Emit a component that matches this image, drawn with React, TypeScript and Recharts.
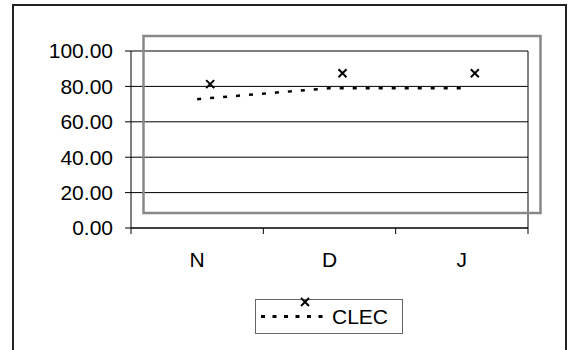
import { LineChart, Line, XAxis, YAxis, CartesianGrid, Legend, Customized } from "recharts";

const CATEGORIES = ["N", "D", "J"];
const CLEC = [72.8, 79.0, 79.0];
const Y_TICKS = [0, 20, 40, 60, 80, 100];

const data = CATEGORIES.map((cat, i) => ({ cat, clec: CLEC[i] }));

const W = 574;
const H = 350;
const PLOT = { left: 131, top: 51, right: 528, bottom: 228 };
const BAND = (PLOT.right - PLOT.left) / CATEGORIES.length;
const TICK_SIZE = 6;
const TICK_MARGIN = 18;
// Excel drew the markers (and the plot box) shifted off the line
const SHIFT_X = 13;
const SHIFT_Y = -15;
const FONT = "'Liberation Sans', Arial, sans-serif";

function XMark({ cx, cy, size = 4 }: any) {
  return (
    <path
      d={`M${cx - size},${cy - size}L${cx + size},${cy + size}M${cx - size},${cy + size}L${cx + size},${cy - size}`}
      stroke="#000"
      strokeWidth={2}
      fill="none"
    />
  );
}

function CatTick({ x, y, payload, index }: any) {
  const axisY = y - TICK_SIZE - TICK_MARGIN;
  const half = BAND / 2;
  return (
    <g>
      <line x1={x - half} x2={x - half} y1={axisY} y2={axisY + TICK_SIZE} stroke="#000" />
      {index === CATEGORIES.length - 1 && (
        <line x1={x + half} x2={x + half} y1={axisY} y2={axisY + TICK_SIZE} stroke="#000" />
      )}
      <text x={x} y={y} dy="0.71em" textAnchor="middle" fontSize={21} fontFamily={FONT} fill="#000">
        {payload.value}
      </text>
    </g>
  );
}

function Frame() {
  return (
    <g>
      <rect x={13} y={5} width={553} height={400} fill="none" stroke="#222" strokeWidth={2} />
      <line x1={PLOT.right} x2={PLOT.right} y1={PLOT.top} y2={PLOT.bottom} stroke="#000" />
      <rect
        x={PLOT.left + 12.5}
        y={PLOT.top + SHIFT_Y}
        width={PLOT.right - PLOT.left}
        height={PLOT.bottom - PLOT.top}
        fill="none"
        stroke="#888"
        strokeWidth={2.5}
      />
    </g>
  );
}

function LegendBox({ payload }: any) {
  const entry = payload && payload[0];
  return (
    <svg width={150} height={36} style={{ overflow: "visible", display: "block" }}>
      <rect x={0.5} y={0.5} width={147} height={34} fill="#fff" stroke="#666" />
      <line x1={6} x2={72} y1={17.5} y2={17.5} stroke="#000" strokeWidth={3} strokeDasharray="4 7.5" />
      <XMark cx={50} cy={3} />
      <text x={77} y={25} fontSize={21} fontFamily={FONT} fill="#000">
        {entry ? entry.value : "CLEC"}
      </text>
    </svg>
  );
}

export default function App() {
  return (
    <div style={{ position: "absolute", left: 0, top: 0, width: W, height: H, background: "#fff" }}>
      <LineChart
        width={W}
        height={H}
        data={data}
        margin={{ top: PLOT.top, right: W - PLOT.right, bottom: 62, left: 0 }}
      >
        <CartesianGrid horizontal vertical={false} stroke="#000" />
        <XAxis
          dataKey="cat"
          scale="band"
          height={60}
          axisLine={{ stroke: "#000" }}
          tickLine={false}
          tickSize={TICK_SIZE}
          tickMargin={TICK_MARGIN}
          tick={<CatTick />}
          interval={0}
        />
        <YAxis
          width={PLOT.left}
          domain={[0, 100]}
          ticks={Y_TICKS}
          tickFormatter={(v: number) => v.toFixed(2)}
          axisLine={{ stroke: "#000" }}
          tickLine={{ stroke: "#000" }}
          tickSize={6}
          tickMargin={12}
          tick={{ fill: "#000", fontSize: 21, fontFamily: FONT }}
        />
        <Customized component={Frame} />
        <Line
          name="CLEC"
          dataKey="clec"
          stroke="#000"
          strokeWidth={2.5}
          strokeDasharray="4 9"
          isAnimationActive={false}
          activeDot={false}
          dot={(p: any) => <XMark key={p.index} cx={p.cx + SHIFT_X} cy={p.cy + SHIFT_Y} />}
        />
        <Legend
          verticalAlign="middle"
          align="center"
          content={<LegendBox />}
          wrapperStyle={{ left: 255, top: 299, width: 150, height: 36 }}
        />
      </LineChart>
    </div>
  );
}
